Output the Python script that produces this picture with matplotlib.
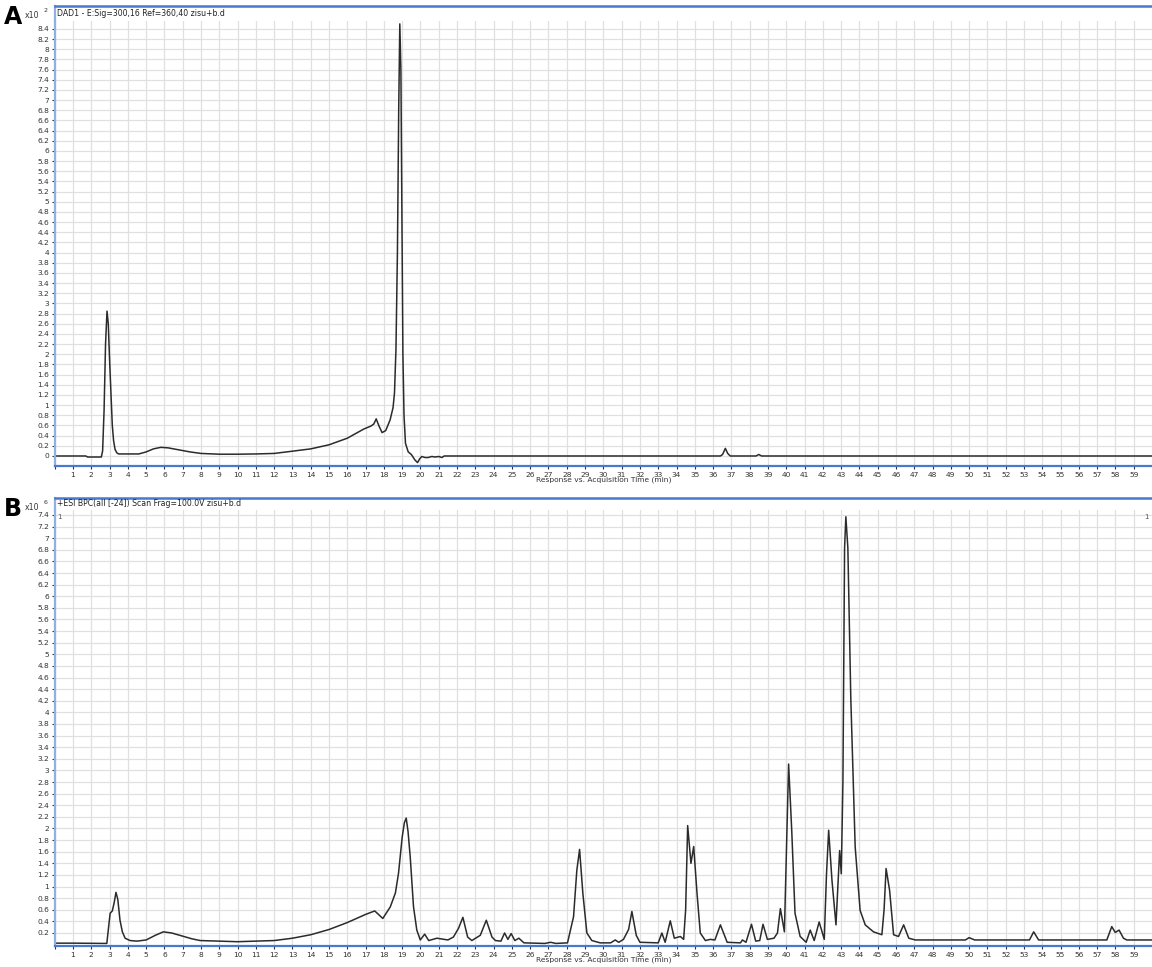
import numpy as np
import matplotlib
matplotlib.use("Agg")
import matplotlib.pyplot as plt

# DAD trace (x10^2), time in min
dad_time = [0.0, 1.7, 1.8, 2.55, 2.62, 2.7, 2.78, 2.86, 2.93, 3.0, 3.08, 3.15, 3.22, 3.3, 3.4, 3.5,
            4.0, 4.6, 5.0, 5.4, 5.8, 6.2, 6.8, 7.4, 8.0, 9.0, 10.0, 11.0, 12.0, 12.9, 14.0, 15.0,
            16.0, 16.9, 17.3, 17.45, 17.58, 17.72, 17.9, 18.1, 18.34, 18.5, 18.58, 18.66, 18.74,
            18.81, 18.87, 18.93, 18.99, 19.04, 19.1, 19.18, 19.33, 19.5, 19.7, 19.84, 19.95, 20.07,
            20.25, 20.42, 20.62, 20.8, 21.0, 21.17, 21.3, 36.4, 36.52, 36.67, 36.8, 36.94, 38.35,
            38.5, 38.65, 60.0]
dad_signal = [0.0, 0.0, -0.02, -0.02, 0.1, 0.9, 2.2, 2.85, 2.6, 1.9, 1.2, 0.6, 0.3, 0.13, 0.06, 0.04,
              0.04, 0.04, 0.08, 0.14, 0.17, 0.16, 0.12, 0.08, 0.05, 0.035, 0.035, 0.04, 0.05, 0.09,
              0.14, 0.22, 0.35, 0.53, 0.59, 0.63, 0.73, 0.6, 0.46, 0.5, 0.71, 0.95, 1.24, 2.1, 4.0,
              6.8, 8.5, 7.6, 4.5, 2.0, 0.8, 0.25, 0.08, 0.03, -0.08, -0.13, -0.06, -0.01, -0.03,
              -0.03, -0.01, -0.02, -0.01, -0.03, 0.0, 0.0, 0.03, 0.15, 0.05, 0.0, 0.0, 0.03, 0.0, 0.0]

# ESI BPC trace (x10^6), time in min
bpc_time = [0.0, 1.0, 2.85, 2.95, 3.03, 3.15, 3.25, 3.35, 3.45, 3.57, 3.7, 3.85, 4.12, 4.5, 5.0,
            5.5, 5.94, 6.4, 6.95, 7.5, 7.95, 9.0, 10.0, 11.0, 12.0, 13.0, 14.0, 15.0, 16.0, 17.0,
            17.5, 17.94, 18.35, 18.63, 18.8, 19.0, 19.12, 19.22, 19.32, 19.44, 19.62, 19.8, 19.99,
            20.23, 20.45, 20.9, 21.5, 21.8, 22.08, 22.32, 22.58, 22.81, 23.27, 23.6, 23.91, 24.1,
            24.4, 24.6, 24.78, 24.96, 25.16, 25.38, 25.66, 26.8, 27.12, 27.4, 28.04, 28.37, 28.55,
            28.7, 28.88, 29.1, 29.37, 29.83, 30.4, 30.65, 30.84, 31.1, 31.38, 31.56, 31.8, 32.0,
            33.0, 33.2, 33.38, 33.66, 33.88, 34.21, 34.39, 34.5, 34.61, 34.79, 34.94, 35.12, 35.3,
            35.58, 35.85, 36.1, 36.4, 36.77, 37.5, 37.6, 37.8, 38.1, 38.33, 38.55, 38.73, 38.97,
            39.33, 39.52, 39.68, 39.9, 40.0, 40.13, 40.3, 40.48, 40.76, 41.09, 41.31, 41.53, 41.8,
            42.08, 42.2, 42.32, 42.5, 42.72, 42.92, 43.01, 43.1, 43.19, 43.26, 43.37, 43.53, 43.77,
            44.04, 44.32, 44.77, 45.23, 45.35, 45.46, 45.65, 45.87, 46.14, 46.42, 46.7, 47.06,
            49.8, 50.0, 50.3, 53.3, 53.53, 53.8, 57.53, 57.8, 57.99, 58.2, 58.44, 58.62, 60.0]
bpc_signal = [0.025, 0.025, 0.02, 0.3, 0.54, 0.58, 0.72, 0.9, 0.78, 0.42, 0.22, 0.11, 0.07, 0.06,
              0.08, 0.16, 0.22, 0.2, 0.15, 0.1, 0.07, 0.06, 0.05, 0.06, 0.07, 0.11, 0.17, 0.26,
              0.38, 0.52, 0.58, 0.45, 0.65, 0.89, 1.23, 1.85, 2.1, 2.18, 1.95, 1.51, 0.65, 0.25,
              0.08, 0.18, 0.07, 0.11, 0.08, 0.13, 0.28, 0.47, 0.13, 0.07, 0.16, 0.42, 0.13, 0.07,
              0.06, 0.2, 0.09, 0.19, 0.07, 0.11, 0.03, 0.02, 0.04, 0.02, 0.03, 0.48, 1.28, 1.64,
              0.88, 0.2, 0.07, 0.03, 0.03, 0.08, 0.04, 0.09, 0.26, 0.57, 0.16, 0.04, 0.03, 0.2,
              0.04, 0.41, 0.11, 0.14, 0.09, 0.6, 2.05, 1.4, 1.69, 0.89, 0.2, 0.07, 0.09, 0.08, 0.34,
              0.04, 0.03, 0.08, 0.04, 0.35, 0.06, 0.07, 0.35, 0.09, 0.11, 0.2, 0.62, 0.22, 1.5, 3.11,
              1.97, 0.54, 0.14, 0.04, 0.25, 0.07, 0.39, 0.09, 1.2, 1.97, 1.11, 0.34, 1.62, 1.22,
              2.82, 6.83, 7.37, 6.83, 4.25, 1.68, 0.59, 0.34, 0.22, 0.17, 0.6, 1.31, 0.94, 0.17,
              0.14, 0.34, 0.11, 0.08, 0.08, 0.12, 0.08, 0.08, 0.22, 0.08, 0.08, 0.31, 0.21, 0.25,
              0.11, 0.08, 0.08]

time_ticks = list(range(0, 60))
dad_ticks = [round(0.2 * i, 1) for i in range(0, 43)]
bpc_ticks = [round(0.2 * i, 1) for i in range(1, 38)]

BLUE = "#4a78cc"
LIGHT_BLUE = "#8fb0e3"
TXT = "#333333"

fig = plt.figure(figsize=(11.52, 9.67), dpi=100)
H = 967.0
W = 1152.0
left = 54.7 / W


def panel(top_px, head_px, bottom_px, t, y, yticks, ylim, title, letter, exp, right_mark):
    # header strip with the trace name
    hd = fig.add_axes([left, 1 - head_px / H, 1 - left, (head_px - top_px) / H])
    hd.set_xticks([])
    hd.set_yticks([])
    for s in ["right", "bottom"]:
        hd.spines[s].set_visible(False)
    hd.spines["top"].set_color(BLUE)
    hd.spines["top"].set_linewidth(1.8)
    hd.spines["left"].set_color(LIGHT_BLUE)
    hd.spines["left"].set_linewidth(1.6)
    hd.text(0.002, 0.5, title, fontsize=5.6, color="#222222", va="center", ha="left",
            transform=hd.transAxes)

    ax = fig.add_axes([left, 1 - bottom_px / H, 1 - left, (bottom_px - head_px) / H])
    ax.plot(t, y, color="#2b2b2b", lw=1.1)
    ax.set_xlim(0, 60)
    ax.set_ylim(*ylim)
    ax.set_xticks(time_ticks)
    ax.set_xticklabels([""] + [str(v) for v in time_ticks[1:]])
    ax.set_yticks(yticks)
    ax.set_yticklabels([f"{v:g}" for v in yticks])
    ax.grid(True, color="#e0e0e0", lw=0.9)
    ax.set_axisbelow(True)
    ax.tick_params(axis="both", labelsize=5.4, colors=TXT, length=2.5, width=0.8, pad=1.5)
    ax.tick_params(axis="x", pad=1.5)
    ax.spines["top"].set_visible(False)
    ax.spines["right"].set_visible(False)
    ax.spines["left"].set_color(LIGHT_BLUE)
    ax.spines["left"].set_linewidth(1.6)
    ax.spines["bottom"].set_color(BLUE)
    ax.spines["bottom"].set_linewidth(1.6)
    ax.set_xlabel("Response vs. Acquisition Time (min)", fontsize=5.4, color=TXT, labelpad=-0.5)
    if right_mark:
        ax.text(0.002, 0.99, "1", fontsize=5, color="#555555", va="top", transform=ax.transAxes)
        ax.text(0.997, 0.99, "1", fontsize=5, color="#555555", va="top", ha="right",
                transform=ax.transAxes)

    fig.text(4 / W, 1 - (top_px + 11) / H, letter, fontsize=17, fontweight="bold",
             va="center", ha="left", color="black")
    fig.text(25 / W, 1 - (top_px + 9) / H, "x10", fontsize=5.6, va="center", color=TXT)
    fig.text(44 / W, 1 - (top_px + 5) / H, exp, fontsize=4.5, va="center", color=TXT)
    return ax


panel(6, 21, 466, dad_time, dad_signal, dad_ticks, (-0.197, 8.557),
      "DAD1 - E:Sig=300,16 Ref=360,40 zisu+b.d", "A", "2", False)
panel(498, 510, 946, bpc_time, bpc_signal, bpc_ticks, (-0.024, 7.486),
      "+ESI BPC(all [-24]) Scan Frag=100.0V zisu+b.d", "B", "6", True)

fig.savefig("out.png", dpi=100)
